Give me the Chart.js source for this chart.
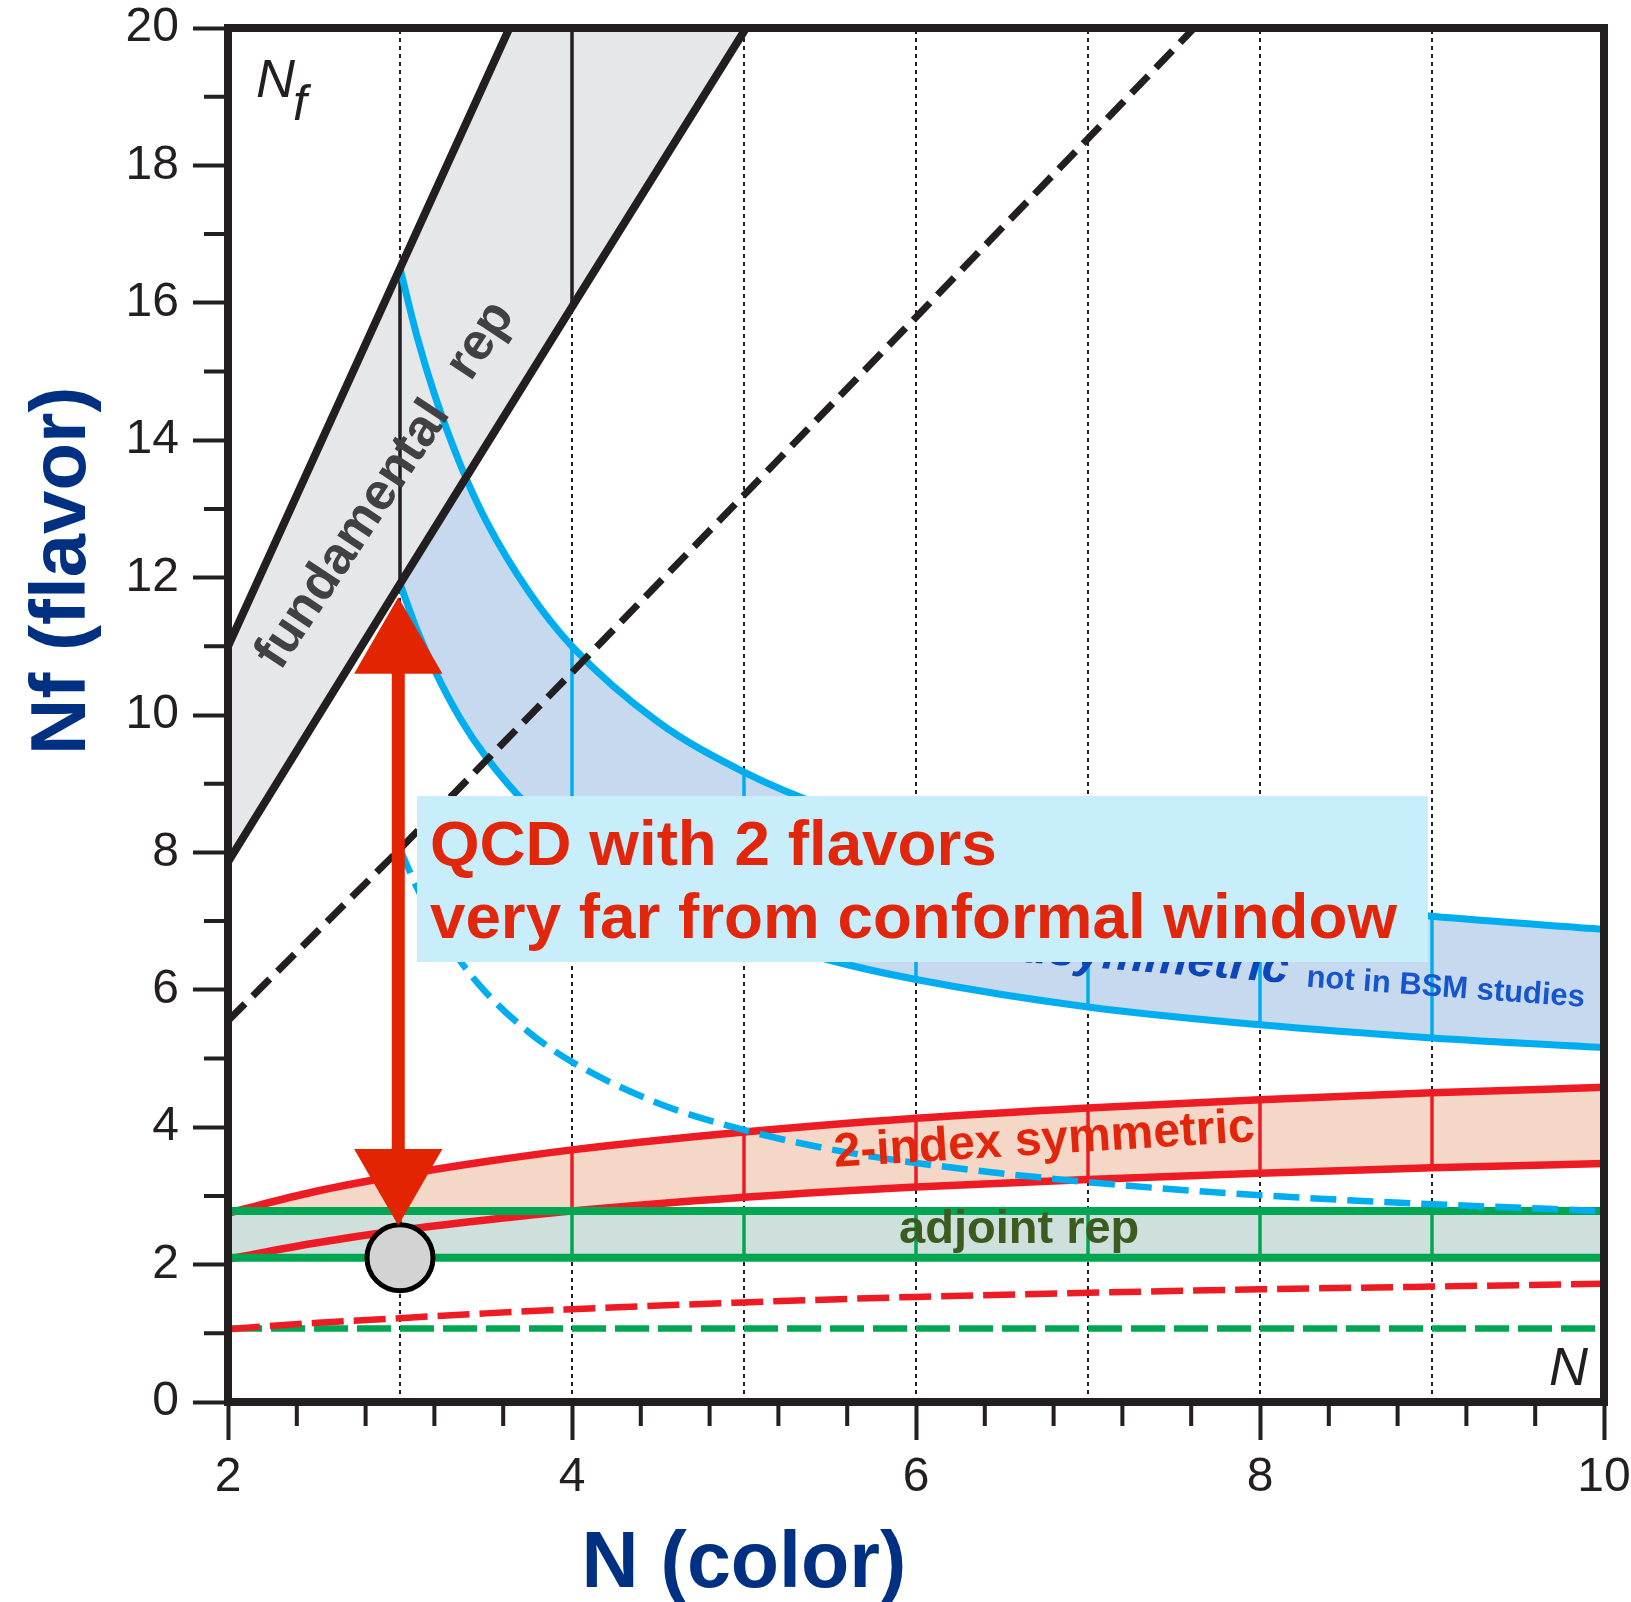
<!DOCTYPE html>
<html>
<head>
<meta charset="utf-8">
<title>Conformal window</title>
<script src="https://cdn.jsdelivr.net/npm/chart.js"></script>
<style>
  html, body { margin: 0; padding: 0; background: #fff; }
  canvas { display: block; }
</style>
</head>
<body>
<canvas id="chart" width="1631" height="1602"></canvas>
<script>
// values (N = colors, Nf = flavors)

// fundamental rep band
const N_FUND = [2, 3, 4, 5, 6];
const FUND_UPPER = [11, 16.5, 22, 27.5, 33];
const FUND_LOWER = [7.86, 11.91, 15.94, 19.95, 23.96];
const N_FUND_DASH = [2, 3, 4, 5, 6, 7, 8];
const FUND_DASH = [5.55, 8.05, 10.62, 13.2, 15.79, 18.39, 21.0];

// 2-index antisymmetric band
const N_ANTI = [3, 3.1, 3.2, 3.35, 3.5, 3.75, 4, 4.5, 5, 5.5, 6, 7, 8, 9, 10];
const ANTI_UPPER = [16.5, 15.5, 14.67, 13.65, 12.83, 11.79, 11, 9.9, 9.17, 8.64, 8.25, 7.7, 7.33, 7.07, 6.88];
const ANTI_LOWER = [11.91, 11.23, 10.66, 9.95, 9.39, 8.66, 8.1, 7.33, 6.81, 6.43, 6.15, 5.75, 5.49, 5.3, 5.16];
const ANTI_DASH = [8.05, 7.48, 7.0, 6.42, 5.96, 5.38, 4.95, 4.35, 3.96, 3.68, 3.48, 3.2, 3.01, 2.88, 2.78];

// 2-index symmetric band
const N_SYM = [2, 2.5, 3, 3.5, 4, 5, 6, 7, 8, 9, 10];
const SYM_UPPER = [2.75, 3.06, 3.3, 3.5, 3.67, 3.93, 4.13, 4.28, 4.4, 4.5, 4.58];
const SYM_LOWER = [2.08, 2.31, 2.5, 2.65, 2.78, 2.98, 3.13, 3.24, 3.33, 3.41, 3.47];
const SYM_DASH = [1.06, 1.15, 1.22, 1.29, 1.35, 1.45, 1.53, 1.59, 1.64, 1.68, 1.72];

// adjoint rep band
const N_ADJ = [2, 10];
const ADJ_UPPER = [2.78, 2.78];
const ADJ_LOWER = [2.1, 2.1];
const ADJ_DASH = [1.07, 1.07];

// vertical rungs inside the bands
const GRID_N = [3, 4, 5, 6, 7, 8, 9];
const FUND_RUNG_N = [3, 4];
const FUND_RUNG_LO = [11.91, 15.94];
const FUND_RUNG_HI = [16.5, 20];
const ANTI_RUNG_N = [4, 5, 6, 7, 8, 9];
const ANTI_RUNG_LO = [8.1, 6.81, 6.15, 5.75, 5.49, 5.3];
const ANTI_RUNG_HI = [11, 9.17, 8.25, 7.7, 7.33, 7.07];
const SYM_RUNG_N = [3, 4, 5, 6, 7, 8, 9];
const SYM_RUNG_LO = [2.5, 2.78, 2.98, 3.13, 3.24, 3.33, 3.41];
const SYM_RUNG_HI = [3.3, 3.67, 3.93, 4.13, 4.28, 4.4, 4.5];
const ADJ_RUNG_N = [3, 4, 5, 6, 7, 8, 9];

// QCD point and the arrow
const QCD_POINT = [3, 2.1];
const ARROW_N = [2.99, 2.99];
const ARROW_NF = [10.97, 3.31];

const X_TITLE = 'N (color)';
const Y_TITLE = 'Nf (flavor)';
const BOX_LINES = ['QCD with 2 flavors', 'very far from conformal window'];

const BLACK = '#231f20';
const CYAN = '#00aeef';
const RED = '#ed1c24';
const GREEN = '#00a651';
const FONT = '"Liberation Sans", Arial, sans-serif';

function pts(xs, ys) {
    return xs.map((x, i) => ({ x: x, y: ys[i] }));
}

function rungs(xs, lo, hi) {
    const out = [];
    xs.forEach((x, i) => {
        out.push({ x: x, y: lo[i] }, { x: x, y: hi[i] }, { x: x, y: null });
    });
    return out;
}

function line(data, color, width, order, extra) {
    return Object.assign({
        data: data,
        borderColor: color,
        borderWidth: width,
        pointRadius: 0,
        fill: false,
        tension: 0,
        order: order
    }, extra || {});
}

function band(data, color, target, order, smooth) {
    return {
        data: data,
        borderColor: 'rgba(0,0,0,0)',
        borderWidth: 0,
        backgroundColor: color,
        pointRadius: 0,
        fill: target,
        tension: 0,
        cubicInterpolationMode: smooth ? 'monotone' : 'default',
        order: order
    };
}

const mono = { cubicInterpolationMode: 'monotone' };

const datasets = [
    // 0 dotted verticals
    line(rungs(GRID_N, GRID_N.map(() => 0), GRID_N.map(() => 20)), BLACK, 2, 100, { borderDash: [4, 4] }),
    // 1-4 band fills
    band(pts(N_ANTI, ANTI_UPPER), '#c6d9ee', 10, 95, true),
    band(pts(N_FUND, FUND_UPPER), '#e6e7e8', 12, 94, false),
    band(pts(N_SYM, SYM_UPPER), '#f5d7c8', 14, 93, true),
    band(pts(N_ADJ, ADJ_UPPER), '#cfdfdb', 16, 92, false),
    // 5-8 rungs
    line(rungs(FUND_RUNG_N, FUND_RUNG_LO, FUND_RUNG_HI), BLACK, 3.5, 80),
    line(rungs(ANTI_RUNG_N, ANTI_RUNG_LO, ANTI_RUNG_HI), CYAN, 3.5, 80),
    line(rungs(SYM_RUNG_N, SYM_RUNG_LO, SYM_RUNG_HI), RED, 3.5, 80),
    line(rungs(ADJ_RUNG_N, ADJ_RUNG_N.map(() => ADJ_LOWER[0]), ADJ_RUNG_N.map(() => ADJ_UPPER[0])), GREEN, 3.5, 80),
    // 9-16 band edges
    line(pts(N_ANTI, ANTI_UPPER), CYAN, 7, 60, mono),
    line(pts(N_ANTI, ANTI_LOWER), CYAN, 7, 60, mono),
    line(pts(N_FUND, FUND_UPPER), BLACK, 8, 58),
    line(pts(N_FUND, FUND_LOWER), BLACK, 8, 58),
    line(pts(N_SYM, SYM_UPPER), RED, 7.5, 56, mono),
    line(pts(N_SYM, SYM_LOWER), RED, 7.5, 56, mono),
    line(pts(N_ADJ, ADJ_UPPER), GREEN, 8, 54),
    line(pts(N_ADJ, ADJ_LOWER), GREEN, 8, 54),
    // 17-20 dashed bounds
    line(pts(N_FUND_DASH, FUND_DASH), BLACK, 7, 40, { borderDash: [24, 11] }),
    line(pts(N_ANTI, ANTI_DASH), CYAN, 6.5, 40, Object.assign({ borderDash: [26, 11] }, mono)),
    line(pts(N_SYM, SYM_DASH), RED, 6.5, 40, Object.assign({ borderDash: [32, 10] }, mono)),
    line(pts(N_ADJ, ADJ_DASH), GREEN, 6.5, 40, { borderDash: [34, 9] }),
    // 21 QCD point
    {
        data: [{ x: QCD_POINT[0], y: QCD_POINT[1] }],
        showLine: false,
        pointRadius: 33,
        pointBackgroundColor: '#d3d3d3',
        pointBorderColor: '#000000',
        pointBorderWidth: 5,
        order: 20
    },
    // 22 red arrow
    line(pts(ARROW_N, ARROW_NF), '#e32400', 13, 10, {
        pointStyle: 'triangle',
        pointRadius: 51,
        pointRotation: [0, 180],
        pointBackgroundColor: '#e32400',
        pointBorderWidth: 0
    })
];

// text placed at data coordinates
const NOTES = [
    { text: 'fundamental', n: 2.73, nf: 12.62, rot: -56.5, font: 'bold 52px ' + FONT, color: '#414042', baseline: 'middle' },
    { text: 'rep', n: 3.47, nf: 15.45, rot: -56.5, font: 'bold 52px ' + FONT, color: '#414042', baseline: 'middle' },
    { text: '2-index antisymmetric', n: 8.16, nf: 6.1, rot: 4.5, align: 'right', font: 'italic bold 48px ' + FONT, color: '#0b47b8' },
    { text: 'not in BSM studies', n: 9.076, nf: 5.9, rot: 4.2, font: 'bold 31px ' + FONT, color: '#1556cf' },
    { text: '2-index symmetric', n: 6.75, nf: 3.61, rot: -3.5, font: 'bold 48px ' + FONT, color: '#e2260c' },
    { text: 'adjoint rep', n: 6.6, nf: 2.31, rot: 0, font: 'bold 47px ' + FONT, color: '#3b5b1f' },
    { text: 'N', n: 2.163, nf: 19.0, align: 'left', font: 'italic 54px ' + FONT, color: BLACK },
    { text: 'f', n: 2.378, nf: 18.66, align: 'left', font: 'italic 50px ' + FONT, color: BLACK },
    { text: 'N', n: 9.68, nf: 0.25, align: 'left', font: 'italic 54px ' + FONT, color: BLACK }
];

const BOX = { n0: 3.099, n1: 8.977, top: 8.82, bottom: 6.405, textN: 3.174, textEnd: 8.797, baselines: [7.817, 6.754] };

function drawText(ctx, t, px, py) {
    ctx.save();
    ctx.translate(px, py);
    ctx.rotate((t.rot || 0) * Math.PI / 180);
    ctx.font = t.font;
    ctx.fillStyle = t.color;
    ctx.textAlign = t.align || 'center';
    ctx.textBaseline = t.baseline || 'alphabetic';
    ctx.fillText(t.text, 0, 0);
    ctx.restore();
}

const overlay = {
    id: 'overlay',
    afterDatasetsDraw(chart) {
        const ctx = chart.ctx;
        const a = chart.chartArea;
        const x = chart.scales.x;
        const y = chart.scales.y;

        ctx.save();
        ctx.beginPath();
        ctx.rect(a.left, a.top, a.right - a.left, a.bottom - a.top);
        ctx.clip();
        NOTES.forEach(t => drawText(ctx, t, x.getPixelForValue(t.n), y.getPixelForValue(t.nf)));

        // annotation box
        const bx0 = x.getPixelForValue(BOX.n0);
        const bx1 = x.getPixelForValue(BOX.n1);
        const by0 = y.getPixelForValue(BOX.top);
        const by1 = y.getPixelForValue(BOX.bottom);
        ctx.fillStyle = '#c8eefb';
        ctx.fillRect(bx0, by0, bx1 - bx0, by1 - by0);
        ctx.font = 'bold 63px ' + FONT;
        ctx.fillStyle = '#e2260c';
        ctx.textAlign = 'left';
        ctx.textBaseline = 'alphabetic';
        const tx = x.getPixelForValue(BOX.textN);
        const want = x.getPixelForValue(BOX.textEnd) - tx;
        let sx = want / ctx.measureText(BOX_LINES[1]).width;
        sx = Math.max(0.85, Math.min(1.15, sx));
        BOX_LINES.forEach((s, i) => {
            ctx.save();
            ctx.translate(tx, y.getPixelForValue(BOX.baselines[i]));
            ctx.scale(sx, 1);
            ctx.fillText(s, 0, 0);
            ctx.restore();
        });
        ctx.restore();

        // frame
        ctx.save();
        ctx.strokeStyle = BLACK;
        ctx.lineWidth = 8;
        ctx.lineJoin = 'miter';
        ctx.strokeRect(a.left, a.top, a.right - a.left, a.bottom - a.top);

        // minor ticks
        ctx.lineWidth = 4;
        ctx.beginPath();
        x.ticks.forEach((tk, i) => {
            if (tk.label === '') {
                const px = x.getPixelForTick(i);
                ctx.moveTo(px, a.bottom);
                ctx.lineTo(px, a.bottom + 24);
            }
        });
        y.ticks.forEach((tk, i) => {
            if (tk.label === '') {
                const py = y.getPixelForTick(i);
                ctx.moveTo(a.left, py);
                ctx.lineTo(a.left - 24, py);
            }
        });
        ctx.stroke();

        // axis titles
        ctx.fillStyle = '#003082';
        ctx.font = 'bold 79px ' + FONT;
        ctx.textAlign = 'center';
        ctx.textBaseline = 'alphabetic';
        ctx.fillText(X_TITLE, x.getPixelForValue(5), a.bottom + 185);
        ctx.save();
        ctx.translate(85, y.getPixelForValue(12.1));
        ctx.rotate(-Math.PI / 2);
        ctx.font = 'bold 78px ' + FONT;
        ctx.fillText(Y_TITLE, 0, 0);
        ctx.restore();
        ctx.restore();
    }
};

function isEven(v) {
    return Math.abs(v / 2 - Math.round(v / 2)) < 1e-6;
}

// fixed axis boxes so the plot area sits where the reference has it
function fixBox(s, size) {
    if (s.isHorizontal()) {
        s.height = size;
    } else {
        s.width = size;
    }
    s.paddingTop = 0;
    s.paddingBottom = 0;
    s.paddingLeft = 0;
    s.paddingRight = 0;
}

new Chart(document.getElementById('chart').getContext('2d'), {
    type: 'line',
    data: { datasets: datasets },
    plugins: [overlay],
    options: {
        responsive: false,
        devicePixelRatio: 1,
        animation: false,
        events: [],
        layout: { autoPadding: false, padding: { top: 28, right: 27, left: 0, bottom: 0 } },
        plugins: {
            legend: { display: false },
            tooltip: { enabled: false }
        },
        scales: {
            x: {
                type: 'linear',
                min: 2,
                max: 10,
                afterFit: s => fixBox(s, 200),
                border: { display: false },
                grid: {
                    drawOnChartArea: false,
                    drawTicks: true,
                    tickLength: 38,
                    tickWidth: 4,
                    tickColor: c => (c.tick && isEven(c.tick.value)) ? BLACK : 'rgba(0,0,0,0)'
                },
                ticks: {
                    stepSize: 0.4,
                    maxTicksLimit: 100,
                    autoSkip: false,
                    maxRotation: 0,
                    padding: 9,
                    color: BLACK,
                    font: { family: FONT, size: 48 },
                    callback: v => isEven(v) ? String(Math.round(v)) : ''
                }
            },
            y: {
                type: 'linear',
                min: 0,
                max: 20,
                afterFit: s => fixBox(s, 228),
                border: { display: false },
                grid: {
                    drawOnChartArea: false,
                    drawTicks: true,
                    tickLength: 35,
                    tickWidth: 4,
                    tickColor: c => (c.tick && isEven(c.tick.value)) ? BLACK : 'rgba(0,0,0,0)'
                },
                ticks: {
                    stepSize: 1,
                    maxTicksLimit: 100,
                    autoSkip: false,
                    padding: 14,
                    color: BLACK,
                    font: { family: FONT, size: 48 },
                    callback: v => isEven(v) ? String(Math.round(v)) : ''
                }
            }
        }
    }
});
</script>
</body>
</html>
